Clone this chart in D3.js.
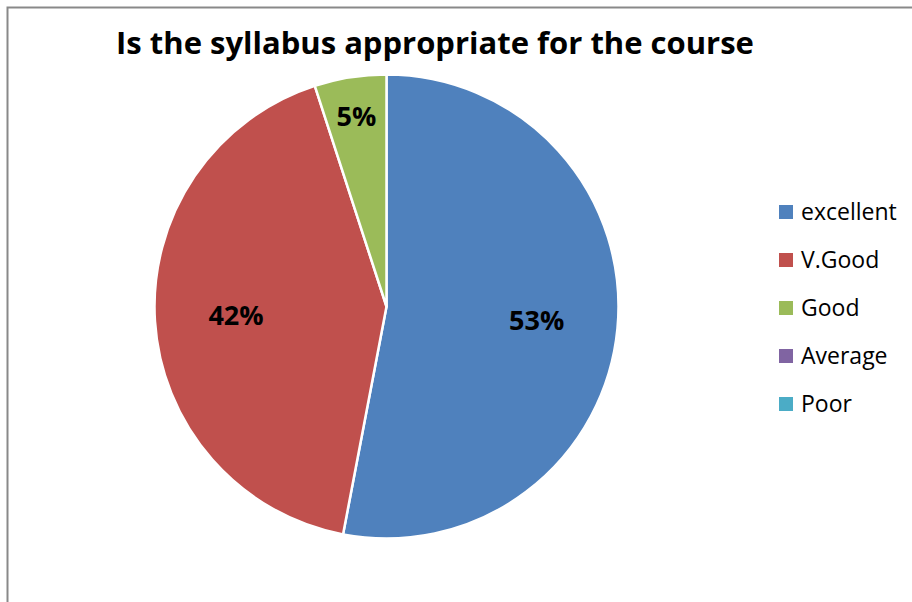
<!DOCTYPE html>
<html>
<head>
<meta charset="utf-8">
<script src="https://cdn.jsdelivr.net/npm/d3@7"></script>
<style>
  body { margin: 0; background: #fff; }
  svg text { font-family: "Open Sans", "Liberation Sans", sans-serif; }
</style>
</head>
<body>
<div class="canvas"></div>
<script>
const categories = ["excellent", "V.Good", "Good", "Average", "Poor"];
const values = [53, 42, 5, 0, 0];
const colors = ["#4F81BD", "#C0504D", "#9BBB59", "#8064A2", "#4BACC6"];
const title = "Is the syllabus appropriate for the course";

const dims = { width: 912, height: 602, radius: 232 };
const cord = { x: 386.5, y: 306.5 };

const data = categories.map((name, i) => ({ name, value: values[i] }));

const svg = d3
  .select(".canvas")
  .append("svg")
  .attr("width", dims.width)
  .attr("height", dims.height);

// chart border (only top and left visible in the crop)
svg
  .append("path")
  .attr("d", `M7.5,${dims.height} V7.5 H${dims.width}`)
  .attr("fill", "none")
  .attr("stroke", "#898989")
  .attr("stroke-width", 2);

svg
  .append("text")
  .attr("x", 435)
  .attr("y", 54)
  .attr("text-anchor", "middle")
  .attr("font-size", 31)
  .attr("font-weight", "bold")
  .attr("fill", "#000")
  .text(title);

const color = d3.scaleOrdinal().domain(categories).range(colors);

const pie = d3
  .pie()
  .sort(null)
  .value((d) => d.value);

const arcPath = d3.arc().outerRadius(dims.radius).innerRadius(0);

const group = svg
  .append("g")
  .attr("transform", `translate(${cord.x}, ${cord.y})`);

const arcs = pie(data);

group
  .selectAll("path")
  .data(arcs.filter((d) => d.data.value > 0))
  .enter()
  .append("path")
  .attr("d", arcPath)
  .attr("fill", (d) => color(d.data.name))
  .attr("stroke", "#fff")
  .attr("stroke-width", 2.5)
  .attr("stroke-linejoin", "round");

// labels - small slices pushed further out
const labelArc = (d) => {
  const total = d3.sum(values);
  const r = d.data.value / total < 0.1 ? dims.radius * 0.83 : dims.radius * 0.65;
  return d3.arc().innerRadius(r).outerRadius(r).centroid(d);
};

group
  .selectAll("text")
  .data(arcs.filter((d) => d.data.value > 0))
  .enter()
  .append("text")
  .attr("transform", (d) => `translate(${labelArc(d)})`)
  .attr("text-anchor", "middle")
  .attr("dy", "0.35em")
  .attr("font-size", 27)
  .attr("font-weight", "bold")
  .attr("fill", "#000")
  .text((d) => `${d.data.value}%`);

// legend
const legendY = d3.scalePoint().domain(categories).range([212, 404]);

const legend = svg
  .append("g")
  .selectAll("g")
  .data(categories)
  .enter()
  .append("g")
  .attr("transform", (d) => `translate(779, ${legendY(d)})`);

legend
  .append("rect")
  .attr("x", 0)
  .attr("y", -7)
  .attr("width", 14)
  .attr("height", 14)
  .attr("fill", (d) => color(d));

legend
  .append("text")
  .attr("x", 22)
  .attr("dy", "0.35em")
  .attr("font-size", 23)
  .attr("fill", "#000")
  .text((d) => d);
</script>
</body>
</html>
